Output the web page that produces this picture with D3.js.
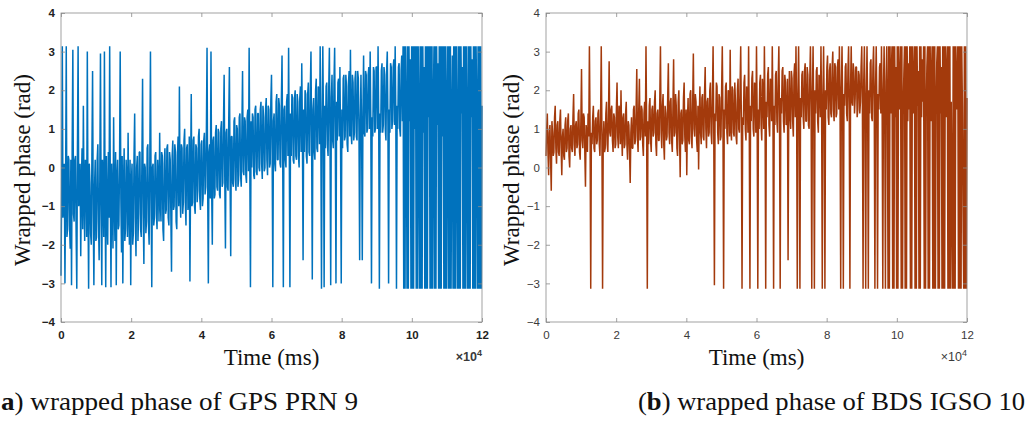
<!DOCTYPE html>
<html>
<head>
<meta charset="utf-8">
<script src="https://cdn.jsdelivr.net/npm/d3@7"></script>
<style>
  body { margin: 0; background: #fff; }
  text { fill: #111; }
</style>
</head>
<body>
<script>
// Ticks de los ejes (x en unidades de 10^4 ms)
xTicks = [0, 2, 4, 6, 8, 10, 12];
yTicks = [-4, -3, -2, -1, 0, 1, 2, 3, 4];
stepMs = 187.5; // separación entre muestras

// Fase envuelta GPS PRN 9 (rad), una muestra cada stepMs
gpsPhase = [
  -2.8, -0.6, 3.14, -1.3, -0.9, 0.1, -3.0, -0.4, 3.14, -1.8, -1.6, 0.3, 0.2, -1.5, -2.1, 0.2, -3.05, 0.5, 3.05, -1.2,
  -1.4, 0.2, 0.3, -1.7, -3.14, 0.4, 3.14, -1.0, -0.7, 0.1, -2.3, -0.4, 0.5, -1.6, 1.6, -0.8, -1.9, 0.2, 0.1, -1.8,
  3.0, -0.9, -3.14, 0.1, -0.4, -1.7, -2.0, 0.3, 2.5, -1.2, -3.05, -0.5, 0.2, -1.9, -1.8, 0.2, 0.6, -1.4, -2.4, -0.3,
  2.95, -1.0, -3.05, 0.2, -0.5, -1.8, 3.0, -0.7, -3.1, 0.3, -1.2, -2.0, 0.4, -1.3, 3.14, -0.6, -3.1, 0.1, -0.8, -2.1,
  1.3, -0.9, -1.9, 0.4, -3.05, -0.3, 0.2, -1.6, -1.5, 0.1, 3.0, -0.8, -2.2, 0.3, -3.0, -0.5, 0.5, -1.9, -1.6, 0.2,
  -0.3, -1.8, 0.9, -1.1, -2.0, 0.2, -3.05, -0.4, 0.1, -2.0, -1.7, 0.3, 1.4, -1.3, -2.3, 0.0, 0.3, -1.9, -1.2, 0.4,
  0.4, -1.6, -1.8, 0.2, 2.3, -1.2, -2.5, 0.1, 0.0, -1.7, -1.4, 0.5, 0.6, -1.5, -2.0, 0.1, 3.0, -0.8, -3.1, 0.0,
  0.1, -1.5, -1.3, 0.3, 0.4, -1.2, -1.6, 0.2, -0.3, -1.4, 0.9, -0.9, -1.4, 0.4, 0.3, -1.6, -1.9, 0.1, 0.5, -1.2,
  -1.1, 0.5, 0.6, -1.3, -1.5, 0.4, 0.2, -1.2, -2.7, 0.3, 0.7, -1.1, -1.0, 0.6, 0.4, -1.4, -1.6, 0.3, 0.8, -1.0,
  2.1, -0.7, -1.3, 0.6, 0.5, -1.2, -0.9, 0.7, 1.0, -0.9, -1.5, 0.5, 0.6, -1.1, -0.8, 0.8, -2.95, -0.2, 1.9, -1.0,
  -0.9, 0.7, 0.8, -1.0, -1.2, 0.6, 0.5, -0.9, -0.6, 0.8, 1.0, -0.8, -1.1, 0.6, 0.7, -1.0, -0.8, 0.7, 0.9, -0.7,
  -0.5, 0.9, 3.1, -0.6, -3.0, 0.4, 0.6, -0.8, 3.0, -0.5, -2.0, 0.7, 0.8, -0.8, -0.7, 0.9, 1.1, -0.5, -0.6, 1.0,
  0.9, -0.7, -0.8, 1.0, 1.2, -0.5, -0.4, 1.1, 2.4, -0.3, -2.1, 0.9, 1.0, -0.5, -0.6, 1.2, 2.6, -0.2, -2.3, 0.8,
  0.8, -0.4, -0.5, 1.2, 1.3, -0.3, -0.6, 1.1, 1.0, -0.5, -0.3, 1.3, 1.4, -0.2, -0.5, 1.0, 2.5, -0.1, -0.2, 1.3,
  1.2, -0.2, -0.4, 1.3, 1.5, -0.1, 3.1, 0.2, -3.1, 1.2, 0.0, 1.4, 1.3, -0.2, -0.3, 1.5, 1.6, -0.1, -0.2, 1.4,
  1.4, 0.0, -0.1, 1.5, 1.7, 0.1, -0.3, 1.6, 1.3, -0.1, 0.0, 1.5, 1.8, 0.2, -0.2, 1.6, 1.5, 0.0, 0.1, 1.7,
  2.4, 0.3, -3.1, 1.2, 1.4, 0.1, -0.1, 1.7, 1.9, 0.2, 0.2, 1.8, 1.6, 0.1, 0.0, 1.7, 2.9, 0.4, -3.1, 1.5,
  1.6, 0.2, 0.0, 1.7, 1.9, 0.3, 3.1, 0.6, -3.1, 1.4, 0.3, 1.9, 1.8, 0.2, 0.1, 1.8, 2.0, 0.3, 0.2, 1.9,
  1.7, 0.3, 0.0, 1.8, 2.1, 0.4, 2.7, 0.9, -2.4, 1.5, 0.4, 2.0, 1.9, 0.3, 0.1, 1.9, 2.2, 0.4, 0.3, 2.0,
  3.0, 0.6, -2.9, 1.5, 1.8, 0.4, 0.2, 2.0, 2.3, 0.5, 0.4, 2.1, 2.0, 0.6, 3.14, 0.8, -3.14, 1.0, 3.14, 1.2,
  -3.1, 1.6, 0.5, 2.1, 2.2, 0.6, 0.3, 2.0, 3.1, 0.7, -3.05, 1.8, 2.4, 0.7, 0.5, 2.2, 3.1, 0.8, -3.0, 1.7,
  0.7, 2.2, 2.3, 0.8, 2.6, 0.6, -3.0, 1.5, 0.5, 2.3, 2.4, 0.7, 0.8, 2.4, 2.1, 0.6, 0.4, 2.2, 2.5, 0.8,
  3.05, 0.9, 0.6, 2.4, 2.2, 0.7, 0.9, 2.3, 2.5, 0.8, 0.7, 2.5, 2.3, 0.9, -2.4, 1.2, 2.4, 0.8, -2.4, 1.4,
  2.9, 0.9, 0.8, 2.5, 2.4, 0.9, 1.0, 2.4, 2.6, 1.0, 3.0, 1.1, -3.0, 1.3, 0.8, 2.6, 2.5, 0.9, 1.0, 2.6,
  2.6, 1.0, 3.14, 1.2, -3.14, 1.4, 0.9, 2.5, 2.7, 0.9, 1.1, 2.6, 2.4, 1.0, 0.7, 2.5, 3.0, 1.1, -3.0, 1.5,
  0.9, 2.7, 2.6, 1.0, 1.2, 2.6, 2.8, 1.1, 3.14, 1.3, -3.14, 1.6, 1.0, 2.6, 2.7, 1.0, 0.8, 2.5, 2.9, 1.2,
  3.14, -3.14, 3.14, -3.14, 3.14, 1.5, -3.14, 3.14, -3.14, 3.14, 1.2, 2.8, -3.14, 3.14, -3.14, 3.14, -3.14, 3.14, 1.0, 3.14,
  -3.14, 3.14, -3.14, 3.14, 1.4, -3.14, 3.14, -3.14, 3.14, -3.14, 3.14, 0.9, 2.6, -3.14, 3.14, -3.14, 3.14, -3.14, 3.14, 1.3,
  3.14, -3.14, 3.14, -3.14, 3.14, -3.14, 1.6, 3.14, -3.14, 3.14, -3.14, 3.14, 1.1, 2.7, -3.14, 3.14, -3.14, 3.14, -3.14, 3.14,
  0.8, 3.14, -3.14, 3.14, -3.14, 3.14, -3.14, 1.5, 3.14, -3.14, 3.14, -3.14, 3.14, -3.14, 1.2, 2.9, -3.14, 3.14, -3.14, 3.14,
  -3.14, 3.14, 1.0, -3.14, 3.14, -3.14, 3.14, -3.14, 3.14, 1.4, 2.6, -3.14, 3.14, -3.14, 3.14, -3.14, 3.14, 1.1, -3.14, 3.14,
  -3.14, 3.14, -3.14, 3.14, 1.3, 2.8, -3.14, 3.14, -3.14, 3.14, -3.14, 3.14, 1.6, -3.14, 3.14, -3.14, 3.14, -3.14, 3.14, -3.14,
  1.6
];

// Fase envuelta BDS IGSO 10 (rad)
bdsPhase = [
  0.3, 1.0, 1.4, 0.4, -0.2, 0.9, 1.1, 0.2, -0.6, 1.2, 0.9, 0.3, 0.4, 1.3, 1.6, 0.5, 0.1, 1.1, 1.2, 0.4,
  0.3, 1.2, 1.5, 0.5, -0.2, 0.8, 1.0, 0.3, 0.2, 1.1, 1.3, 0.4, 0.5, 1.2, 1.4, 0.3, 0.0, 1.0, 1.1, 0.5,
  0.4, 1.3, 1.9, 0.6, 0.3, 1.1, 1.2, 0.5, 0.6, 1.4, 1.5, 0.4, 0.2, 1.2, 2.55, 0.7, 0.5, 1.4, 1.3, 0.4,
  -0.5, 1.1, 0.9, 0.4, 1.4, 0.8, 3.14, 1.0, -3.14, 0.9, 0.6, 1.3, 1.6, 0.5, 0.4, 1.2, 1.3, 0.6, 0.7, 1.4,
  1.5, 0.6, 0.3, 1.3, 3.14, 0.9, -3.14, 0.7, 1.2, 0.4, 0.5, 1.4, 1.7, 0.6, 0.4, 1.3, 2.75, 0.9, 0.8, 1.5,
  1.6, 0.7, 0.4, 1.4, 1.3, 0.5, 0.6, 1.5, 2.2, 0.8, 0.5, 1.6, 1.5, 0.6, 2.0, 0.9, 0.3, 1.3, 1.4, 0.5,
  0.6, 1.4, 1.7, 0.6, 0.2, 1.2, 1.1, 0.4, -0.4, 0.9, 1.3, 0.5, 0.5, 1.5, 1.6, 0.6, 0.7, 1.5, 2.55, 0.8,
  0.4, 1.5, 2.3, 0.7, 0.8, 1.6, 1.5, 0.6, 0.3, 1.4, 1.7, 0.8, 3.14, 1.0, -3.14, 1.2, 0.6, 1.6, 1.8, 0.7,
  0.4, 1.5, 1.6, 0.8, 0.9, 1.7, 2.0, 0.6, 0.3, 1.4, 1.5, 0.7, 0.7, 1.8, 3.14, 0.9, 0.5, 1.6, 1.9, 0.6,
  0.2, 1.6, 1.4, 0.7, 0.8, 1.8, 2.7, 0.9, 0.6, 1.7, 1.8, 0.7, 0.4, 1.6, 2.8, 0.8, 0.9, 1.9, 1.6, 0.5,
  0.3, 1.7, 2.0, 0.8, -0.25, 1.4, 1.5, 0.6, 0.7, 1.8, 2.2, 0.8, 0.4, 1.5, -0.2, 1.2, 1.8, 0.7, 0.6, 1.9,
  2.0, 0.8, 0.5, 1.7, 2.95, 1.0, 0.8, 1.9, 1.7, 0.7, 0.4, 1.6, -0.05, 1.3, 2.1, 0.9, 0.6, 1.8, 1.9, 0.8,
  0.7, 1.9, 2.6, 1.0, 0.5, 1.7, 1.8, 0.8, 0.9, 2.0, 2.2, 0.9, 0.6, 1.8, 3.14, 1.1, -3.05, 1.4, 1.2, 2.2,
  2.1, 0.9, 0.6, 1.9, 1.8, 0.7, 0.8, 2.0, 3.14, 1.2, -3.14, 1.5, 1.0, 2.1, 2.2, 0.9, 0.6, 2.0, 1.9, 0.8,
  3.05, 1.0, 0.7, 2.1, 2.0, 0.9, 0.8, 2.2, 1.7, 0.8, 0.6, 2.0, 2.3, 1.0, 0.9, 2.1, 3.14, 1.2, -3.14, 1.3,
  1.1, 2.2, 2.4, 1.0, 0.7, 2.1, 1.9, 0.9, 3.14, 1.1, -3.14, 1.6, 1.2, 2.3, 2.5, 1.0, 0.8, 2.2, 2.1, 0.9,
  3.14, 1.3, -3.14, 1.5, 1.0, 2.2, 2.4, 1.1, 0.7, 2.3, 1.9, 1.0, 3.14, 1.4, -3.14, 1.7, 1.3, 2.4, 2.6, 1.1,
  0.8, 2.3, 2.2, 1.2, 3.14, 1.5, -3.14, 1.6, 1.1, 2.4, 2.5, 1.2, 0.9, 2.3, 3.14, 1.3, -3.14, 1.8, 1.4, 2.5,
  2.6, 1.2, 0.9, 2.4, 2.2, 1.1, 1.2, 2.3, -2.4, 1.4, 2.5, 1.3, 1.0, 2.5, 2.3, 1.2, 0.8, 2.4, 2.7, 1.3,
  3.14, 1.4, -3.14, 1.9, 3.14, 1.5, -3.14, 1.8, 1.3, 2.4, 2.5, 1.3, 1.0, 2.5, 2.7, 1.2, 1.2, 2.6, 2.4, 1.1,
  1.0, 2.3, 3.14, 1.6, -3.14, 1.9, 3.14, 1.4, -3.14, 2.0, 1.4, 2.5, 2.6, 1.2, 0.9, 2.4, 2.3, 1.3, 3.14, 1.5,
  -3.14, 1.8, 3.14, 1.4, -3.14, 2.0, 1.5, 2.6, 2.9, 1.3, 1.1, 2.5, 2.7, 1.4, 1.3, 2.6, 3.0, 1.5, 1.2, 2.7,
  2.6, 1.3, 1.4, 2.6, 2.8, 1.5, 3.14, 1.7, -3.14, 2.0, 3.14, 1.6, -3.14, 1.9, 1.6, 2.6, 2.7, 1.4, 1.2, 2.5,
  3.14, 1.5, -3.14, 2.1, 3.14, 1.7, 1.6, 2.7, 2.5, 1.4, 1.8, 2.6, 2.6, 1.3, 1.5, 2.5, 2.4, 1.4, 1.7, 2.6,
  3.14, 1.6, -3.14, 2.2, 3.14, 1.4, -3.14, 1.9, 3.14, 1.5, -3.14, 2.0, 1.4, 2.7, 2.8, 1.3, 1.2, 2.6, 3.14, 1.7,
  -3.14, 2.1, 3.14, 1.5, -3.14, 1.9, 1.5, 2.6, 2.7, 1.4, 3.14, 1.6, -3.14, 2.0, 3.14, 1.3, -3.14, 2.2, 3.14, 1.6,
  -3.14, 3.14, -3.14, 3.14, 1.4, 2.5, 3.14, -3.14, 3.14, -3.14, 3.14, 1.3, 2.6, -3.14, 3.14, -3.14, 3.14, 1.5, 2.2, 3.14,
  -3.14, 3.14, -3.14, 1.6, 2.4, 3.14, -3.14, 3.14, -3.14, 3.14, 1.2, 2.7, 1.5, 3.14, -3.14, 3.14, -3.14, 3.14, 1.4, 2.3,
  3.14, -3.14, 3.14, -3.14, 3.14, 1.6, 2.5, -3.14, 3.14, -3.14, 3.14, 1.3, 2.8, 1.7, 3.14, -3.14, 3.14, -3.14, 1.5, 2.6,
  3.14, -3.14, 3.14, -3.14, 3.14, 1.2, 2.4, 3.14, -3.14, 3.14, -3.14, 3.14, -3.14, 1.6, 2.7, 3.14, -3.14, 3.14, -3.14, 3.14,
  1.4, 2.6, -3.14, 3.14, -3.14, 3.14, -3.14, 3.14, 1.3, 2.5, 3.14, -3.14, 3.14, -3.14, 3.14, -3.14, 1.7, -0.8, -3.14, 3.14,
  -3.14, 3.14, -3.14, 3.14, 1.5, 2.3, 3.14, -3.14, 3.14, -3.14, 3.14, -3.14, 3.14, 1.6, -1.2, -3.14, 3.14, -3.14, 3.14, -3.14,
  1.8
];

// Dimensiones del lienzo
width = 1030;
height = 423;
top_ = 13;
bottom = 322;
plotW = 421;

svg = d3.select("body")
    .append("svg")
    .attr("width", width)
    .attr("height", height);

// Un panel por satélite
panels = [
    { left: 61, data: gpsPhase, color: "#0072BD", weight: "bold", labelX: 30,
      tag: "a", caption: ") wrapped phase of GPS PRN 9", capX: 1, capW: 357 },
    { left: 546, data: bdsPhase, color: "#A33A0C", weight: "normal", labelX: 519,
      tag: "b", caption: ") wrapped phase of BDS IGSO 10", capX: 638, capW: 387, open: "(" }
];

panels.forEach(p => {
    x = d3.scaleLinear().domain([0, 120000]).range([p.left, p.left + plotW]);
    y = d3.scaleLinear().domain([-4, 4]).range([bottom, top_]);

    g = svg.append("g");

    // Serie de fase (trazo algo grueso para que la banda densa quede llena)
    g.append("path")
        .datum(p.data)
        .attr("fill", "none")
        .attr("stroke", p.color)
        .attr("stroke-width", 1.5)
        .attr("stroke-linejoin", "bevel")
        .attr("d", d3.line()
            .x((d, i) => x(i * stepMs))
            .y(d => y(d)));

    // Marco del eje
    g.append("rect")
        .attr("x", p.left).attr("y", top_)
        .attr("width", plotW).attr("height", bottom - top_)
        .attr("fill", "none")
        .attr("stroke", "#8a8a8a")
        .attr("stroke-width", 0.8);

    tickFont = sel => sel.selectAll("text")
        .style("font-family", "'Liberation Sans', Arial, sans-serif")
        .style("font-size", "11.5px")
        .style("font-weight", p.weight)
        .style("fill", p.weight == "bold" ? "#222" : "#3a3a3a");

    xVals = xTicks.map(d => d * 1e4);

    // Eje inferior (ticks hacia dentro)
    g.append("g")
        .attr("transform", `translate(0,${bottom})`)
        .call(d3.axisBottom(x).tickValues(xVals).tickFormat(d => d / 1e4).tickSize(-4).tickPadding(9))
        .call(tickFont);
    // Eje superior sin etiquetas
    g.append("g")
        .attr("transform", `translate(0,${top_})`)
        .call(d3.axisTop(x).tickValues(xVals).tickFormat("").tickSize(-4));
    // Eje izquierdo
    g.append("g")
        .attr("transform", `translate(${p.left},0)`)
        .call(d3.axisLeft(y).tickValues(yTicks).tickSize(-4).tickPadding(6))
        .call(tickFont);
    // Eje derecho sin etiquetas
    g.append("g")
        .attr("transform", `translate(${p.left + plotW},0)`)
        .call(d3.axisRight(y).tickValues(yTicks).tickFormat("").tickSize(-4));

    g.selectAll(".domain").remove();
    g.selectAll(".tick line").attr("stroke", "#8a8a8a").attr("stroke-width", 0.8);

    // Multiplicador x10^4
    mult = g.append("text")
        .attr("x", p.left + plotW)
        .attr("y", 361)
        .attr("text-anchor", "end")
        .style("font-family", "'Liberation Sans', Arial, sans-serif")
        .style("font-size", "12.5px")
        .style("font-weight", p.weight)
        .style("fill", "#3a3a3a");
    mult.append("tspan").text("\u00d710");
    mult.append("tspan").attr("dy", -5).style("font-size", "9px").text("4");

    // Títulos de ejes
    g.append("text")
        .attr("x", p.left + plotW / 2)
        .attr("y", 365)
        .attr("text-anchor", "middle")
        .style("font-family", "'Liberation Serif', 'Times New Roman', serif")
        .style("font-size", "23px")
        .text("Time (ms)");

    g.append("text")
        .attr("transform", `translate(${p.labelX},170) rotate(-90)`)
        .attr("text-anchor", "middle")
        .style("font-family", "'Liberation Serif', 'Times New Roman', serif")
        .style("font-size", "23px")
        .text("Wrapped phase (rad)");

    // Leyenda de la subfigura
    cap = svg.append("text")
        .attr("x", p.capX)
        .attr("y", 410)
        .attr("textLength", p.capW)
        .attr("lengthAdjust", "spacingAndGlyphs")
        .style("font-family", "'Liberation Serif', 'Times New Roman', serif")
        .style("font-size", "25px");
    if (p.open) cap.append("tspan").text(p.open);
    cap.append("tspan").style("font-weight", "bold").text(p.tag);
    cap.append("tspan").text(p.caption);
});
</script>
</body>
</html>
